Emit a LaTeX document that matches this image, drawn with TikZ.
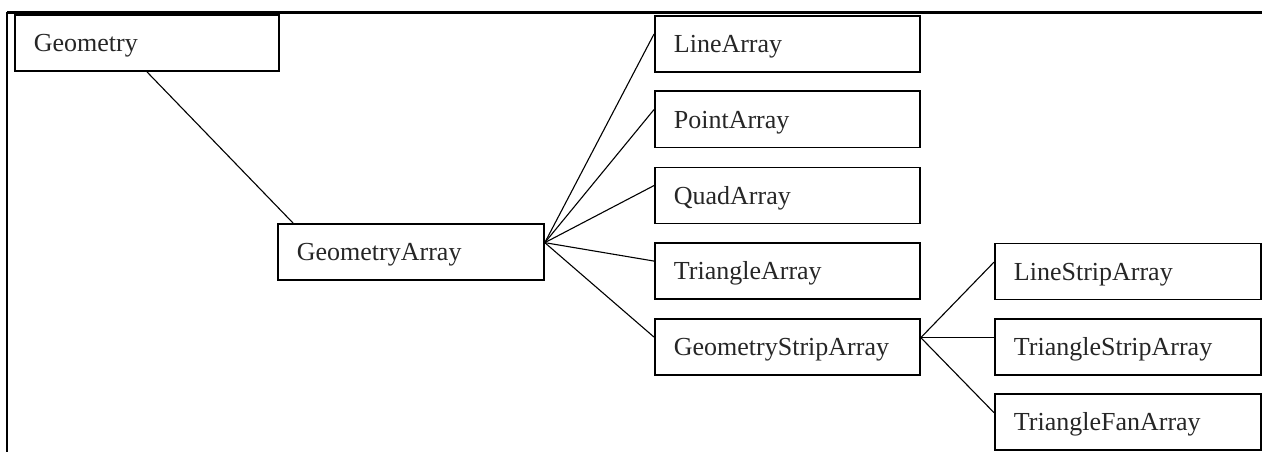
\documentclass[tikz,border=0pt]{standalone}
\usepackage{fontspec}
\setmainfont{Liberation Serif}
\usetikzlibrary{calc}
\begin{document}
\begin{tikzpicture}[x=1pt,y=-1pt,
  box/.style={draw=black, line width=1.8pt, anchor=north west, minimum height=56pt,
    inner xsep=19pt, inner ysep=0pt, align=left, text height=19pt, text depth=1pt,
    text=black!85, font=\fontsize{26}{30}\selectfont},
  conn/.style={draw=black, line width=1.1pt}]
\useasboundingbox (0,0) rectangle (1262,452);
% frame lines
\coordinate (tl) at (7,12.5);
\coordinate (tr) at (1262,12.5);
\coordinate (bl) at (7,452);
\draw[line width=3pt] (tl) -- (tr);
\draw[line width=1.5pt] (tl) -- (bl);
% boxes
\node[box, text width=264pt-38pt] (g) at (14,14) {Geometry};
\node[box, text width=266pt-38pt] (ga) at (277,223) {GeometryArray};
\node[box, text width=265pt-38pt] (la) at (654,15) {LineArray};
\node[box, text width=265pt-38pt] (pa) at (654,90.5) {PointArray};
\node[box, text width=265pt-38pt] (qa) at (654,166.5) {QuadArray};
\node[box, text width=265pt-38pt] (ta) at (654,242) {TriangleArray};
\node[box, text width=265pt-38pt] (gsa) at (654,318) {GeometryStripArray};
\node[box, text width=266pt-38pt] (lsa) at (994,242.5) {LineStripArray};
\node[box, text width=266pt-38pt] (tsa) at (994,318) {TriangleStripArray};
\node[box, text width=266pt-38pt] (tfa) at (994,393) {TriangleFanArray};
% connectors
\draw[conn] ($(g.south west)!0.5!(g.south east)$) -- ($(ga.north west)+(16,0)$);
\coordinate (gaout) at ($(ga.north east)!0.34!(ga.south east)$);
\foreach \n in {la,pa,qa,ta,gsa}
  \draw[conn] (gaout) -- ($(\n.north west)!0.33!(\n.south west)$);
\coordinate (gsaout) at ($(gsa.north east)!0.34!(gsa.south east)$);
\foreach \n in {lsa,tsa,tfa}
  \draw[conn] (gsaout) -- ($(\n.north west)!0.34!(\n.south west)$);
\end{tikzpicture}
\end{document}
